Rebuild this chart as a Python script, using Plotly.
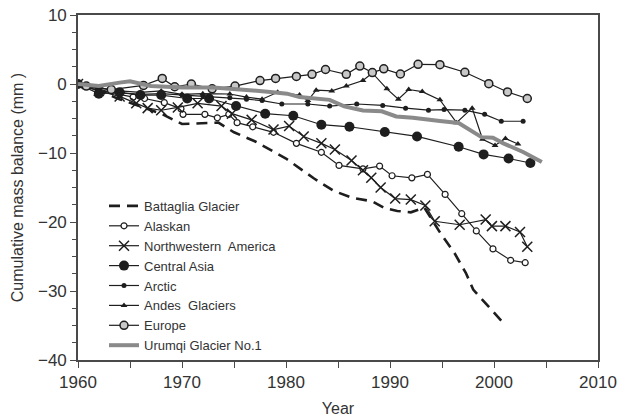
import plotly.graph_objects as go

# ---- data ----
battaglia_years = [1960, 1962, 1964, 1966, 1968, 1970, 1972, 1973.5, 1975, 1977, 1980, 1982.7, 1984.6,
                   1986.4, 1988.3, 1989.5, 1990.7, 1992, 1993.3, 1994.8, 1996.2, 1997.3, 1998, 1999.2, 2001]
battaglia_vals = [0, -1.0, -2.2, -3.3, -4.3, -5.8, -5.7, -5.6, -7.0, -8.3, -10.8, -13.7, -15.5,
                  -16.5, -17.0, -18.0, -18.4, -18.6, -17.9, -21.5, -24.5, -27.4, -29.8, -31.8, -34.8]

alaskan_years = [1960, 1962, 1964, 1965.3, 1966.4, 1968.3, 1969.9, 1970.1, 1972.2, 1973.4, 1974.5, 1975.3,
                 1976.8, 1978.8, 1981, 1983.4, 1985.1, 1987.4, 1989, 1990.2, 1992.1, 1993.6, 1995.3,
                 1996.9, 1998.3, 1999.9, 2001.6, 2003]
alaskan_vals = [0, -0.8, -1.5, -1.9, -2.1, -2.7, -3.6, -4.4, -4.4, -4.9, -4.4, -5.6,
                -6.2, -7.0, -8.6, -9.9, -11.8, -12.3, -11.9, -13.3, -13.6, -13.1, -16.0,
                -18.8, -21.3, -23.9, -25.55, -25.9]

nwamerica_years = [1960, 1962, 1964, 1965.6, 1966.7, 1968, 1969.6, 1971.5, 1973.8, 1974.8, 1976.7, 1978.8,
                   1980.3, 1981.7, 1983.4, 1984.7, 1986.3, 1987.4, 1988.2, 1989.1, 1990.5, 1992.0,
                   1993.4, 1994.3, 1996.7, 1999.2, 1999.8, 2001.1, 2002.5, 2003.2]
nwamerica_vals = [0, -1.0, -1.8, -2.8, -3.5, -3.8, -3.4, -2.8, -3.2, -4.3, -5.2, -6.6,
                  -6.1, -7.6, -8.6, -9.5, -11.1, -12.5, -13.6, -15.0, -16.6, -16.75,
                  -17.6, -19.9, -20.4, -19.65, -20.6, -20.6, -21.45, -23.6]

casia_years = [1960, 1962, 1964, 1966, 1968, 1970.5, 1972.6, 1975.2, 1978, 1980.7, 1983.4, 1986.1,
               1989.5, 1992.6, 1996.6, 1999, 2001.4, 2003.5]
casia_vals = [0, -1.4, -1.2, -1.6, -1.6, -2.1, -2.1, -3.2, -4.3, -4.6, -5.9, -6.2,
              -6.95, -7.6, -9.1, -10.2, -10.8, -11.45]

arctic_years = [1960, 1962, 1964, 1966, 1968, 1970, 1972, 1974.6, 1976.2, 1977.7, 1979.6, 1982.1,
                1984.2, 1986.8, 1989.3, 1991.5, 1993.7, 1995.2, 1997.2, 1999.1, 2000.7, 2002.8]
arctic_vals = [0, -1.0, -1.3, -1.5, -1.4, -1.6, -1.7, -2.0, -2.2, -2.4, -2.9, -2.9,
               -3.2, -2.9, -3.1, -3.5, -3.8, -3.7, -3.8, -4.4, -5.4, -5.4]

andes_years = [1960, 1962, 1964, 1966, 1968, 1970, 1972, 1974.6, 1976.2, 1977.7, 1979.2, 1981.3,
               1982.1, 1982.9, 1984.4, 1985.8, 1987.4, 1988.3, 1989.7, 1990.8, 1991.8, 1993.1,
               1994.8, 1996.4, 1997.9, 1998.9, 2000.1, 2001.1, 2002.3]
andes_vals = [0, -0.6, -1.0, -1.2, -1.0, -1.5, -1.4, -1.45, -1.9, -2.2, -1.2, -1.6,
              -2.4, -0.9, -1.0, -0.3, 0.5, 1.6, -0.7, -2.2, -0.8, -1.1,
              -2.3, -5.6, -3.5, -8.0, -8.9, -7.9, -8.7]

europe_years = [1960.8, 1963.2, 1966.3, 1968.1, 1969.3, 1970.9, 1972.9, 1975.1, 1977.5, 1979, 1981,
                1982.5, 1983.8, 1985.8, 1987.1, 1988.3, 1989.4, 1991, 1992.7, 1994.8, 1997.2,
                1999.5, 2001.3, 2003.2]
europe_vals = [-0.3, -0.8, -0.2, 0.8, -0.4, 0.0, -0.7, -0.3, 0.5, 0.8, 1.1,
               1.4, 2.1, 1.4, 2.6, 1.65, 2.2, 1.45, 2.85, 2.8, 1.7,
               0.05, -1.15, -2.1]

urumqi_years = [1960, 1962, 1964, 1965, 1967, 1970, 1973, 1975, 1976.5, 1978.5, 1980.1, 1981.3, 1982.9,
                1984.2, 1985.6, 1987.4, 1989.2, 1990.6, 1992.2, 1993.5, 1994.8, 1996.6, 1997.7,
                1998.8, 1999.9, 2000.9, 2002.8, 2004.6]
urumqi_vals = [0, -0.3, 0.2, 0.4, -0.3, -0.5, -0.5, -0.8, -0.9, -1.16, -1.4, -1.9, -2.1,
               -2.3, -3.25, -3.85, -3.95, -4.7, -4.9, -5.2, -5.36, -5.65, -6.7,
               -7.7, -7.8, -8.6, -9.85, -11.3]

x_ticks = [1960, 1970, 1980, 1990, 2000, 2010]
y_ticks = [-40, -30, -20, -10, 0, 10]

BLK = "#1e1e1e"
fig = go.Figure()

fig.add_trace(go.Scatter(x=battaglia_years, y=battaglia_vals, name="Battaglia Glacier", mode="lines",
                         line=dict(color=BLK, width=2.6, dash="11px,7px")))
fig.add_trace(go.Scatter(x=alaskan_years, y=alaskan_vals, name="Alaskan", mode="lines+markers",
                         line=dict(color=BLK, width=1.2),
                         marker=dict(symbol="circle", size=6, color="white", line=dict(color=BLK, width=1.2))))
fig.add_trace(go.Scatter(x=nwamerica_years, y=nwamerica_vals, name="Northwestern  America", mode="lines+markers",
                         line=dict(color=BLK, width=1.2),
                         marker=dict(symbol="x-thin", size=10, color=BLK, line=dict(color=BLK, width=1.5))))
fig.add_trace(go.Scatter(x=casia_years, y=casia_vals, name="Central Asia", mode="lines+markers",
                         line=dict(color=BLK, width=1.2),
                         marker=dict(symbol="circle", size=10, color=BLK)))
fig.add_trace(go.Scatter(x=arctic_years, y=arctic_vals, name="Arctic", mode="lines+markers",
                         line=dict(color=BLK, width=1.2),
                         marker=dict(symbol="circle", size=5, color=BLK)))
fig.add_trace(go.Scatter(x=andes_years, y=andes_vals, name="Andes  Glaciers", mode="lines+markers",
                         line=dict(color=BLK, width=1.2),
                         marker=dict(symbol="triangle-up", size=6, color=BLK)))
fig.add_trace(go.Scatter(x=europe_years, y=europe_vals, name="Europe", mode="lines+markers",
                         line=dict(color=BLK, width=1.2),
                         marker=dict(symbol="circle", size=8, color="#c8c8c8", line=dict(color=BLK, width=1.5))))
fig.add_trace(go.Scatter(x=urumqi_years, y=urumqi_vals, name="Urumqi Glacier No.1", mode="lines",
                         line=dict(color="#8a8a8a", width=4)))

axis_common = dict(showgrid=False, zeroline=False, showline=True, mirror=True, automargin=False,
                   linecolor="#4a4a4a", linewidth=1.6, ticks="outside", ticklen=6,
                   tickcolor="#4a4a4a", tickwidth=1.3,
                   tickfont=dict(family="Liberation Sans, Arial", size=17, color="#333"))

fig.update_xaxes(range=[1960, 2010], tickvals=x_ticks, **axis_common,
                 minor=dict(dtick=5, ticks="outside", ticklen=6, tickcolor="#4a4a4a", tickwidth=1.3),
                 title=dict(text="Year", font=dict(family="Liberation Sans, Arial", size=16, color="#333"),
                            standoff=12))
fig.update_yaxes(range=[-40, 10], tickvals=y_ticks, **axis_common,
                 minor=dict(dtick=2.5, ticks="outside", ticklen=4, tickcolor="#4a4a4a", tickwidth=1.3),
                 title=dict(text="Cumulative mass balance (mm )",
                            font=dict(family="Liberation Sans, Arial", size=16, color="#333"), standoff=10))

fig.update_layout(
    width=622, height=418,
    margin=dict(l=78, r=24, t=15, b=58, autoexpand=False),
    paper_bgcolor="white", plot_bgcolor="white",
    showlegend=True,
    legend=dict(x=0.05, y=0.49, xanchor="left", yanchor="top",
                bgcolor="rgba(0,0,0,0)", borderwidth=0,
                font=dict(family="Liberation Sans, Arial", size=13, color="#333"),
                itemwidth=30, tracegroupgap=0),
)

fig.write_html("out.html", config={"displayModeBar": False},
               post_script="document.body.style.margin='0';")
